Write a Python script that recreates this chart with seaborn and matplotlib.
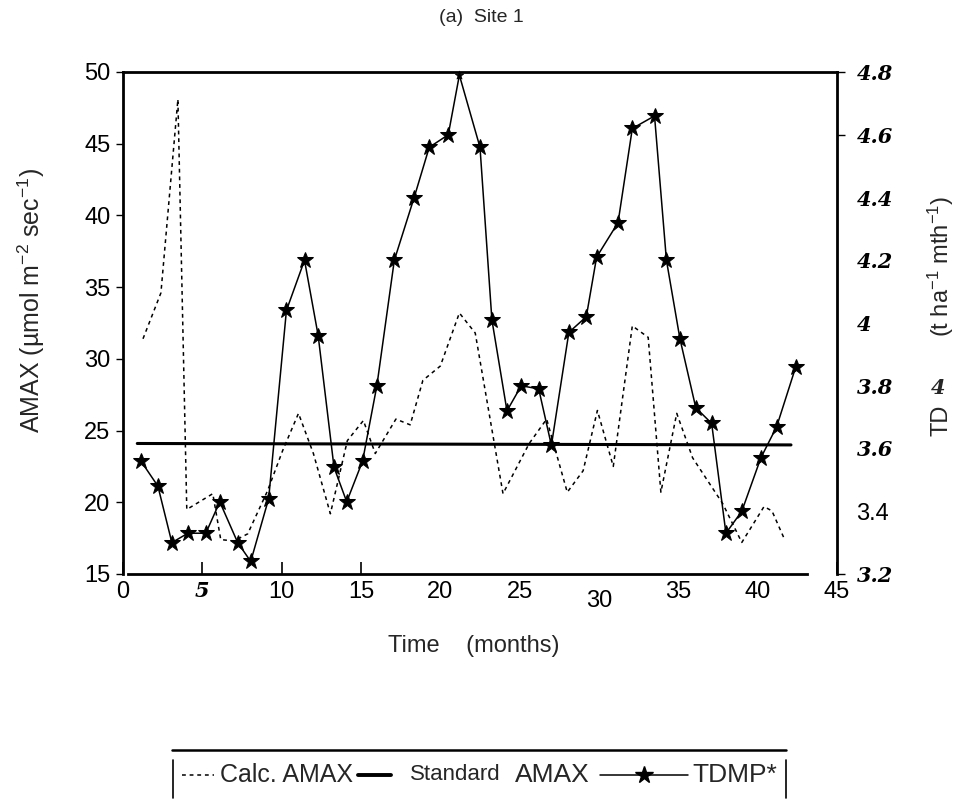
import numpy as np
import pandas as pd
import seaborn as sns
import matplotlib
matplotlib.use("Agg")
import matplotlib.pyplot as plt
from matplotlib.lines import Line2D
from matplotlib.font_manager import FontProperties
import matplotlib.transforms as mtransforms

# ---------------- data ----------------
tdmp_x = [1.13, 2.2, 3.08, 4.09, 5.22, 6.1, 7.23, 8.05, 9.18, 10.3, 11.44, 12.3, 13.3, 14.1,
          15.1, 16.0, 17.1, 18.35, 19.3, 20.5, 21.2, 22.5, 23.25, 24.2, 25.1, 26.2, 27.0, 28.1,
          29.2, 29.85, 31.2, 32.1, 33.5, 34.25, 35.1, 36.1, 37.1, 38.0, 39.0, 40.2, 41.2, 42.4]
tdmp_y = [3.56, 3.48, 3.30, 3.33, 3.33, 3.43, 3.30, 3.24, 3.44, 4.04, 4.20, 3.96, 3.54, 3.43,
          3.56, 3.80, 4.20, 4.40, 4.56, 4.60, 4.79, 4.56, 4.01, 3.72, 3.80, 3.79, 3.61, 3.97,
          4.02, 4.21, 4.32, 4.62, 4.66, 4.20, 3.95, 3.73, 3.68, 3.33, 3.40, 3.57, 3.67, 3.86]

calc_x = [1.26, 2.39, 3.46, 4.02, 5.66, 6.16, 6.98, 7.86, 9.11, 10.06, 11.06, 12.0, 13.07, 14.14,
          15.15, 15.9, 17.2, 18.1, 18.9, 20.0, 21.2, 22.2, 23.95, 25.6, 26.7, 28.0, 29.0, 29.9,
          30.9, 32.1, 33.1, 33.9, 34.9, 35.9, 37.8, 39.0, 40.4, 40.9, 41.7]
calc_y = [31.4, 34.6, 48.1, 19.5, 20.6, 17.4, 17.3, 17.8, 20.8, 23.6, 26.2, 23.4, 19.2, 24.3,
          25.7, 23.4, 25.8, 25.4, 28.5, 29.5, 33.2, 31.8, 20.6, 24.1, 25.8, 20.7, 22.2, 26.4,
          22.5, 32.3, 31.5, 20.7, 26.2, 23.1, 19.9, 17.2, 19.7, 19.4, 17.4]

std_x = [0.9, 42.1]
std_y = [24.1, 24.0]

x_ticks = [0, 5, 10, 15, 20, 25, 30, 35, 40, 45]
x_ticklabels = ["0", "5", "10", "15", "20", "25", "30", "35", "40", "45"]
left_ticks = [15, 20, 25, 30, 35, 40, 45, 50]
left_ticklabels = ["15", "20", "25", "30", "35", "40", "45", "50"]
right_ticks = [3.2, 3.4, 3.6, 3.8, 4.0, 4.2, 4.4, 4.6, 4.8]
right_ticklabels = ["3.2", "3.4", "3.6", "3.8", "4", "4.2", "4.4", "4.6", "4.8"]

legend_labels = ["Calc. AMAX", "Standard", "AMAX", "TDMP*"]

# ---------------- style ----------------
sns.set_theme(style="white")
plt.rcParams["font.family"] = ["Liberation Sans", "DejaVu Sans"]
plt.rcParams["mathtext.default"] = "regular"

serif_bi = FontProperties(family=["DejaVu Serif"], weight="bold", style="italic", size=15)

W, H = 957, 811
fig = plt.figure(figsize=(W / 100, H / 100), dpi=100)
fig.patch.set_facecolor("white")


def fx(px):
    return px / W


def fy(py):
    return 1 - py / H


ax = fig.add_axes([fx(123), fy(574), fx(837) - fx(123), fy(72) - fy(574)])
ax.set_facecolor("white")
ax2 = ax.twinx()

# ---------------- series ----------------
calc_df = pd.DataFrame({"x": calc_x, "y": calc_y})
std_df = pd.DataFrame({"x": std_x, "y": std_y})
tdmp_df = pd.DataFrame({"x": tdmp_x, "y": tdmp_y})

sns.lineplot(data=calc_df, x="x", y="y", ax=ax, sort=False, estimator=None,
             color="black", lw=1.1, linestyle=(0, (2.5, 2.5)))
sns.lineplot(data=std_df, x="x", y="y", ax=ax, sort=False, estimator=None,
             color="black", lw=2.2)

peak_idx = int(np.argmax(tdmp_y))
mark_idx = [i for i in range(len(tdmp_x)) if i != peak_idx]
sns.lineplot(data=tdmp_df, x="x", y="y", ax=ax2, sort=False, estimator=None,
             color="black", lw=1.1, marker="*", markersize=12, markevery=mark_idx,
             markeredgecolor="black", markerfacecolor="black")
sns.scatterplot(x=[tdmp_x[peak_idx]], y=[tdmp_y[peak_idx]], ax=ax2, marker="*",
                s=40, color="black", edgecolor="black", linewidth=0.5, clip_on=False, zorder=5)

# ---------------- axes ----------------
ax.set_xlim(0, 45)
ax.set_ylim(15, 50)
ax2.set_ylim(3.2, 4.8)
ax.set_xlabel("")
ax.set_ylabel("")
ax2.set_xlabel("")
ax2.set_ylabel("")

for s in ["left", "top", "right", "bottom"]:
    ax.spines[s].set_visible(True)
    ax.spines[s].set_color("black")
ax.spines["left"].set_linewidth(2.0)
ax.spines["top"].set_linewidth(2.0)
ax.spines["bottom"].set_linewidth(2.0)
ax.spines["right"].set_visible(False)
ax.spines["bottom"].set_bounds(0.3, 43.1)
for s in ["left", "top", "bottom"]:
    ax2.spines[s].set_visible(False)
ax2.spines["right"].set_visible(True)
ax2.spines["right"].set_color("black")
ax2.spines["right"].set_linewidth(2.0)

# x ticks
ax.set_xticks(x_ticks)
ax.set_xticklabels(x_ticklabels, fontsize=17)
ax.tick_params(axis="x", direction="in", length=9, width=1.2, pad=5, colors="black",
               bottom=True, top=False)
for i, t in enumerate(ax.xaxis.get_major_ticks()):
    if x_ticks[i] in (20, 25, 30, 35, 40):
        t.tick1line.set_visible(False)
for lab in ax.get_xticklabels():
    if lab.get_text() == "5":
        lab.set_fontproperties(serif_bi)
    if lab.get_text() == "30":
        lab.set_transform(lab.get_transform() +
                          mtransforms.ScaledTranslation(0, -9 / 100, fig.dpi_scale_trans))

# left ticks
ax.set_yticks(left_ticks)
ax.set_yticklabels(left_ticklabels, fontsize=17)
ax.tick_params(axis="y", direction="out", length=5, width=1.0, pad=4, colors="black",
               left=True, right=False)

# right ticks
ax2.set_yticks(right_ticks)
ax2.set_yticklabels(right_ticklabels)
ax2.tick_params(axis="y", direction="out", length=6, width=1.0, pad=8, colors="black",
                right=True, left=False)
for i, t in enumerate(ax2.yaxis.get_major_ticks()):
    if right_ticks[i] not in (4.8, 4.6, 3.2):
        t.tick2line.set_visible(False)
for lab in ax2.get_yticklabels():
    if lab.get_text() == "3.4":
        lab.set_fontsize(17)
        lab.set_family(["Liberation Sans", "DejaVu Sans"])
    else:
        lab.set_fontproperties(serif_bi)

# ---------------- texts ----------------
fig.text(fx(481), fy(18), "(a)  Site 1", ha="center", va="center", fontsize=14)
fig.text(fx(474), fy(646), "Time    (months)", ha="center", va="center", fontsize=17)
fig.text(fx(31), fy(300), "AMAX (µmol m$^{-2}$ sec$^{-1}$)", rotation=90,
         ha="center", va="center", fontsize=18)
fig.text(fx(941), fy(266), "(t ha$^{-1}$ mth$^{-1}$)", rotation=90,
         ha="center", va="center", fontsize=17)
fig.text(fx(941), fy(420), "TD", rotation=90, ha="center", va="center", fontsize=17)
fig.text(fx(938), fy(388), "4", ha="center", va="center", fontproperties=serif_bi)

# ---------------- legend (partial box) ----------------
ly = 775
def fline(xs, ys, **kw):
    fig.add_artist(Line2D([fx(v) for v in xs], [fy(v) for v in ys],
                          transform=fig.transFigure, **kw))

fline([172, 786], [750, 750], color="black", lw=1.8)
fline([173, 173], [760, 798], color="black", lw=1.2)
fline([786, 786], [760, 798], color="black", lw=1.2)
fline([182, 214], [ly, ly], color="black", lw=1.1, linestyle=(0, (2.5, 2.5)))
fig.text(fx(220), fy(ly), legend_labels[0], ha="left", va="center", fontsize=18)
fline([358, 391], [ly, ly], color="black", lw=2.8)
fig.text(fx(410), fy(ly), legend_labels[1], ha="left", va="center", fontsize=16)
fig.text(fx(515), fy(ly), legend_labels[2], ha="left", va="center", fontsize=19)
fline([600, 688], [ly, ly], color="black", lw=1.1)
fline([644], [ly], color="black", marker="*", markersize=13, linestyle="none")
fig.text(fx(692), fy(ly), legend_labels[3], ha="left", va="center", fontsize=19)

fig.savefig("out.png", dpi=100, facecolor="white")
